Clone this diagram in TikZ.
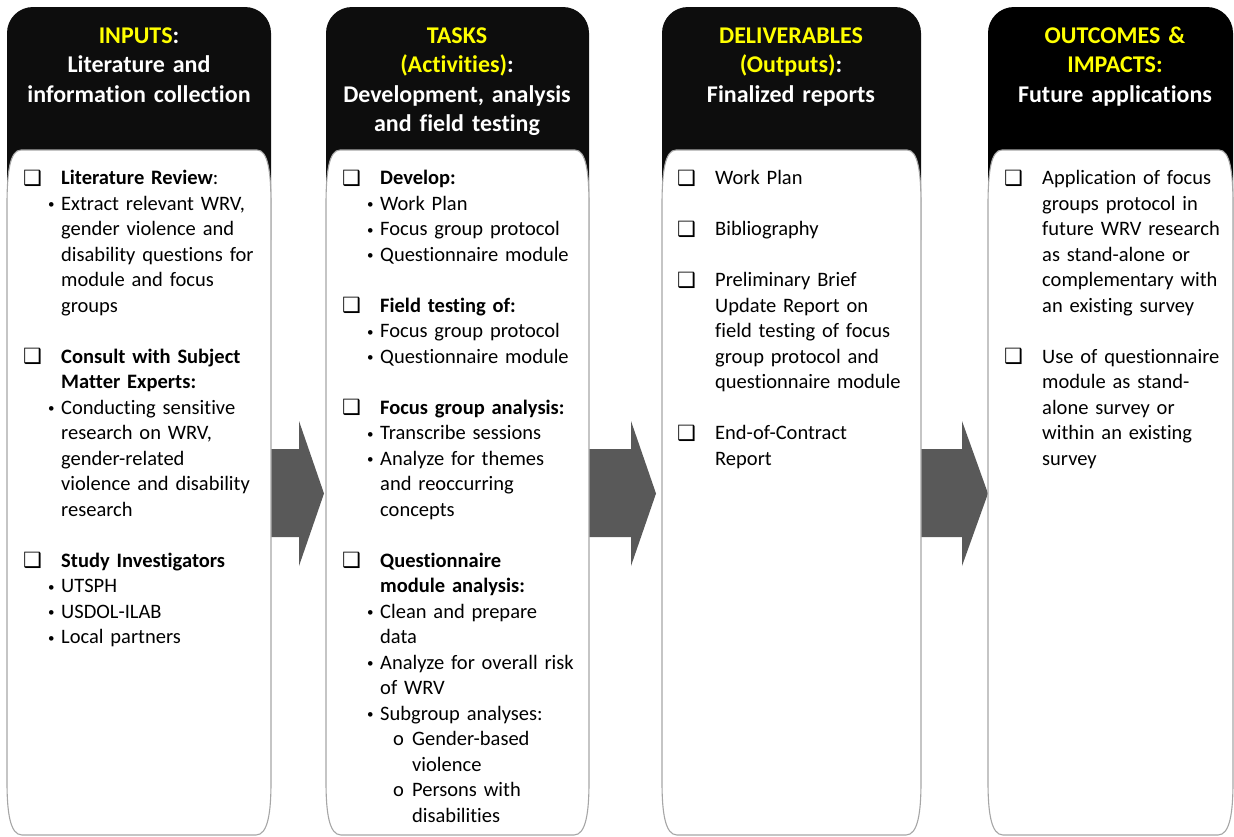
\documentclass[tikz,border=0pt]{standalone}
\usepackage{fontspec}
\setmainfont{Carlito}[Ligatures=NoCommon]
\newfontfamily\symfont{DejaVu Sans}

\definecolor{hdblack}{HTML}{0D0D0D}
\definecolor{hdyellow}{HTML}{FFFF00}
\definecolor{panelgray}{HTML}{A6A6A6}
\definecolor{arrowgray}{HTML}{595959}

% list helpers: checkbox, bullet, continuation, sub-bullet
\newcommand{\cbox}{\makebox[38pt][l]{\raisebox{-0.5pt}{\symfont\fontsize{21}{21}\selectfont ❑}}}
\newcommand{\bul}{\hspace*{25pt}\makebox[13pt][l]{\raisebox{1.5pt}{\fontsize{13}{13}\selectfont •}}}
\newcommand{\cnt}{\hspace*{38pt}}
\newcommand{\sub}{\hspace*{51pt}\makebox[19pt][l]{o}}
\newcommand{\scnt}{\hspace*{70pt}}

\tikzset{
  headtext/.style={text=white, font=\fontsize{24}{29.5}\selectfont\bfseries,
    text width=250pt, align=center, anchor=base, inner sep=0pt},
  bodytext/.style={font=\fontsize{20.5}{25.5}\selectfont,
    text width=300pt, align=left, anchor=base west, inner sep=0pt},
  panelbody/.style={fill=white, draw=panelgray, line width=1.1pt},
  blockarrow/.style={fill=arrowgray},
}

\begin{document}
\begin{tikzpicture}[x=1pt,y=-1pt]
\useasboundingbox (0,0) rectangle (1234,836);

% Block arrows between the columns
\foreach \xa/\xb/\xt in {265/299/324, 582/631/656, 914/962/988}
  \fill[blockarrow] (\xa,449) -- (\xb,449) -- (\xb,421) -- (\xt,493.5)
    -- (\xb,566) -- (\xb,537) -- (\xa,537) -- cycle;

% Column panels: black header behind a white body
\foreach \xl/\xr/\hd in {7/271/hdblack, 326/589/hdblack, 662/921/hdblack, 988/1233/black} {
  \fill[\hd] (\xl,240) [rounded corners=26pt] -- (\xl,7) -- (\xr,7)
    [sharp corners] -- (\xr,240) -- cycle;
  \draw[panelbody] ({\xl+14},150) -- ({\xr-14},150)
    .. controls ({\xr-3},150) and (\xr,172) .. (\xr,205) -- (\xr,782)
    .. controls (\xr,812) and ({\xr-3},835) .. ({\xr-15},835) -- ({\xl+15},835)
    .. controls ({\xl+3},835) and (\xl,812) .. (\xl,782) -- (\xl,205)
    .. controls (\xl,172) and ({\xl+3},150) .. ({\xl+14},150) -- cycle;
}

% Headers
\node[headtext] (hin) at (139,43) {\textcolor{hdyellow}{INPUTS}:\\Literature and\\information collection};
\node[headtext] (htask) at (457,43) {\textcolor{hdyellow}{TASKS}\\\textcolor{hdyellow}{(Activities)}:\\Development, analysis\\and field testing};
\node[headtext] (hdel) at (791,43) {\textcolor{hdyellow}{DELIVERABLES}\\\textcolor{hdyellow}{(Outputs)}:\\Finalized reports};
\node[headtext] (hout) at (1115,43) {\textcolor{hdyellow}{OUTCOMES \&}\\\textcolor{hdyellow}{IMPACTS:}\\Future applications};

% Column contents
\node[bodytext] (bin) at (23,184.5) {%
\cbox\textbf{Literature Review}:\\
\bul Extract relevant WRV,\\
\cnt gender violence and\\
\cnt disability questions for\\
\cnt module and focus\\
\cnt groups\\[25.5pt]
\cbox\textbf{Consult with Subject}\\
\cnt\textbf{Matter Experts:}\\
\bul Conducting sensitive\\
\cnt research on WRV,\\
\cnt gender-related\\
\cnt violence and disability\\
\cnt research\\[25.5pt]
\cbox\textbf{Study Investigators}\\
\bul UTSPH\\
\bul USDOL-ILAB\\
\bul Local partners};

\node[bodytext] (btask) at (342,184.5) {%
\cbox\textbf{Develop:}\\
\bul Work Plan\\
\bul Focus group protocol\\
\bul Questionnaire module\\[25.5pt]
\cbox\textbf{Field testing of:}\\
\bul Focus group protocol\\
\bul Questionnaire module\\[25.5pt]
\cbox\textbf{Focus group analysis:}\\
\bul Transcribe sessions\\
\bul Analyze for themes\\
\cnt and reoccurring\\
\cnt concepts\\[25.5pt]
\cbox\textbf{Questionnaire}\\
\cnt\textbf{module analysis:}\\
\bul Clean and prepare\\
\cnt data\\
\bul Analyze for overall risk\\
\cnt of WRV\\
\bul Subgroup analyses:\\
\sub Gender-based\\
\scnt violence\\
\sub Persons with\\
\scnt disabilities};

\node[bodytext] (bdel) at (677,184.5) {%
\cbox Work Plan\\[25.5pt]
\cbox Bibliography\\[25.5pt]
\cbox Preliminary Brief\\
\cnt Update Report on\\
\cnt field testing of focus\\
\cnt group protocol and\\
\cnt questionnaire module\\[25.5pt]
\cbox End-of-Contract\\
\cnt Report};

\node[bodytext] (bout) at (1004,184.5) {%
\cbox Application of focus\\
\cnt groups protocol in\\
\cnt future WRV research\\
\cnt as stand-alone or\\
\cnt complementary with\\
\cnt an existing survey\\[25.5pt]
\cbox Use of questionnaire\\
\cnt module as stand-\\
\cnt alone survey or\\
\cnt within an existing\\
\cnt survey};

\end{tikzpicture}
\end{document}
